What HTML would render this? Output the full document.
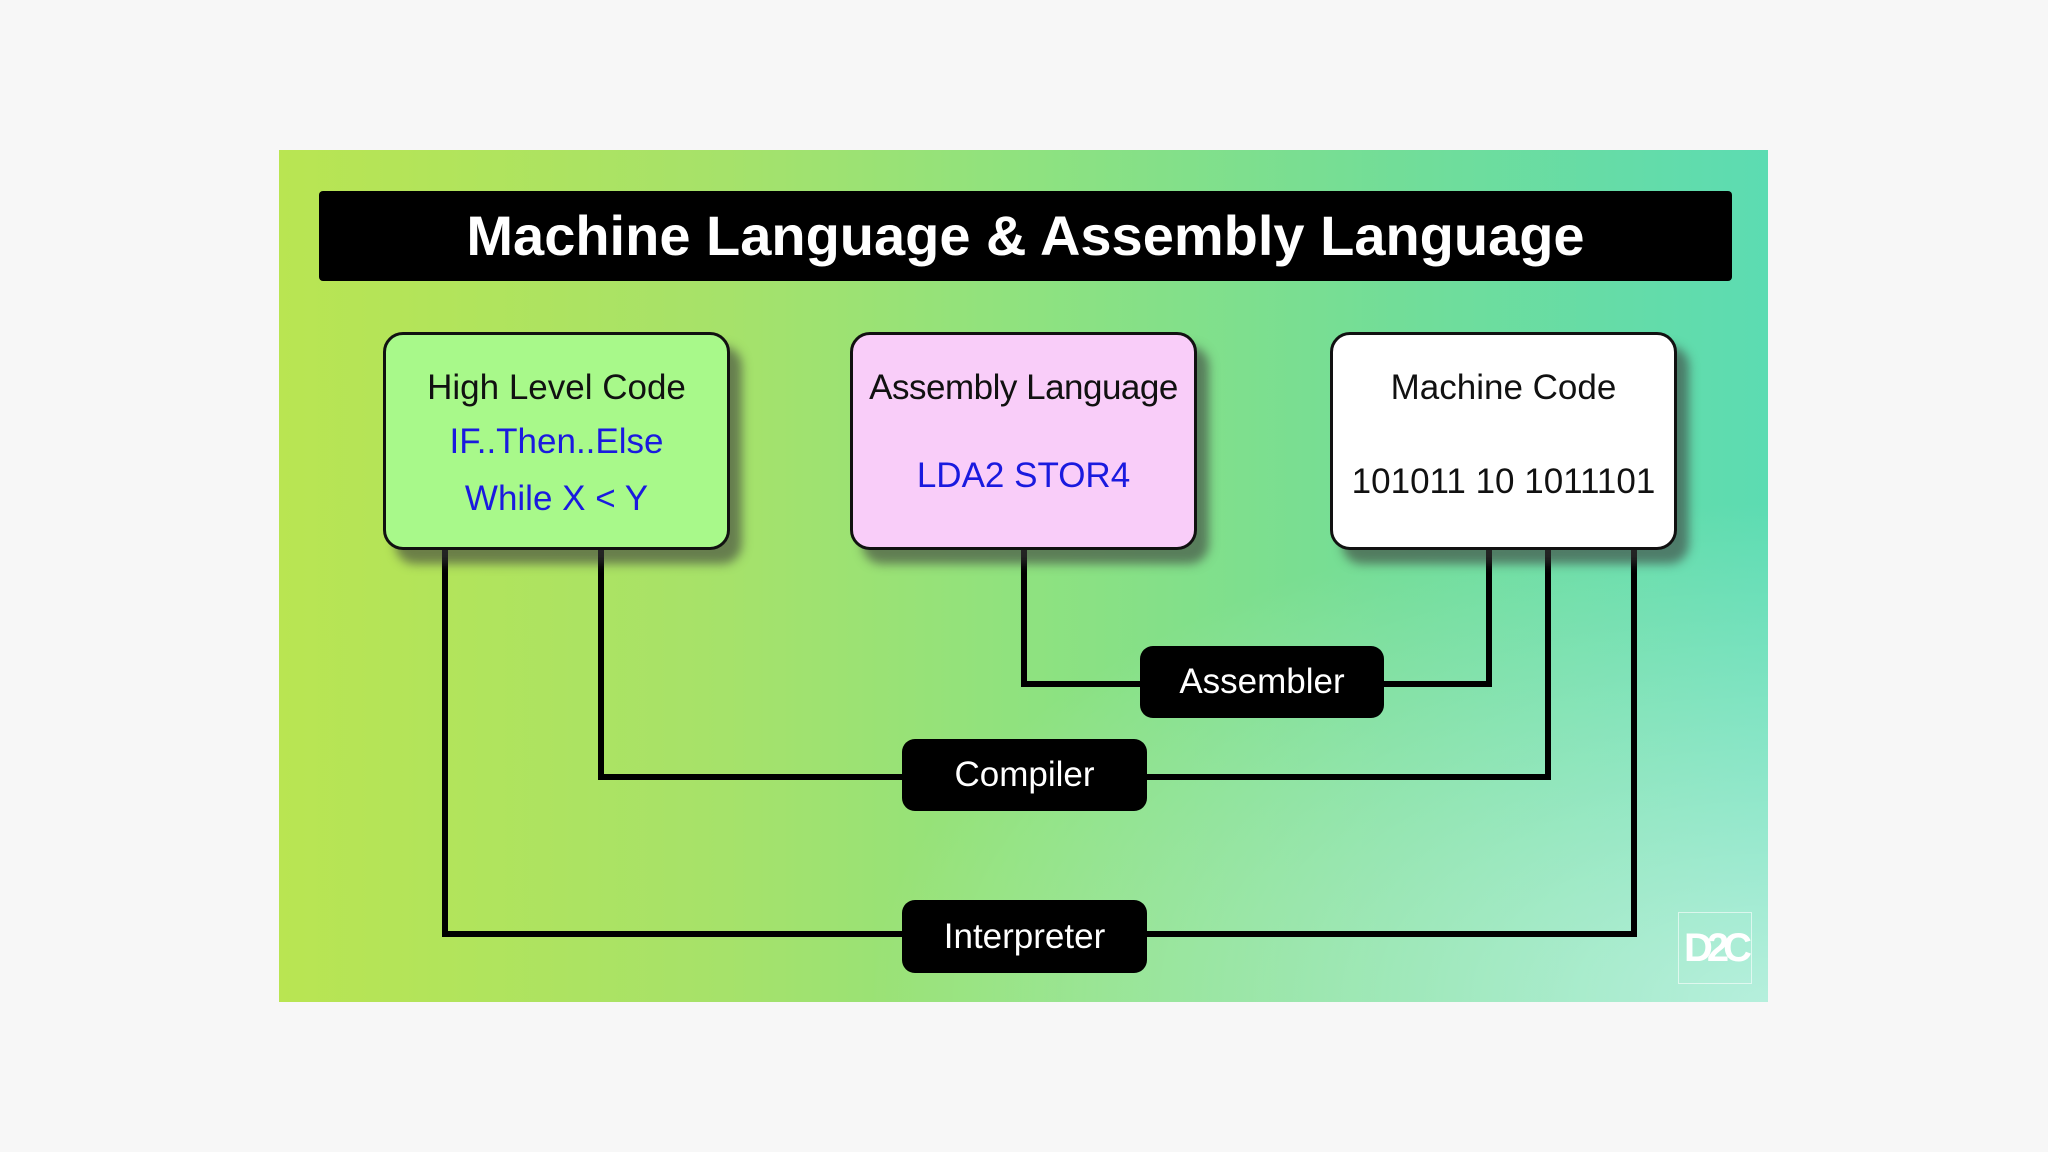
<!DOCTYPE html>
<html><head><meta charset="utf-8"><style>
body{margin:0;width:2048px;height:1152px;background:#f7f7f7;position:relative;overflow:hidden;font-family:"Liberation Sans",sans-serif}
#panel{position:absolute;left:279px;top:150px;width:1489px;height:852px;background:linear-gradient(90deg,#b9e552 0%,#a6e26a 30%,#8fe27f 50%,#72dd98 75%,#5cdcb2 100%);overflow:hidden}
#panel:after{content:"";position:absolute;inset:0;background:radial-gradient(ellipse 900px 500px at 100% 100%,rgba(255,255,255,.55),rgba(255,255,255,0) 100%)}
.title{position:absolute;left:319px;top:191px;width:1413px;height:90px;background:#000;border-radius:4px;color:#fff;font-weight:bold;font-size:56px;text-align:center;line-height:90px;z-index:2}
.box{position:absolute;top:332px;width:341px;height:212px;border:3px solid #111;border-radius:20px;box-shadow:12px 14px 10px rgba(60,60,60,.6);z-index:3;text-align:center;font-size:35px;color:#111}
.box div{position:absolute;left:0;right:0;line-height:40px}
.blue{color:#1a1adf}
.pill{position:absolute;background:#000;color:#fff;border-radius:13px;font-size:35px;text-align:center;z-index:3}
svg{position:absolute;left:0;top:0;z-index:2}
</style></head><body>
<div id="panel"></div>
<div class="title">Machine Language &amp; Assembly Language</div>
<svg width="2048" height="1152"><g fill="none" stroke="#000" stroke-width="6">
<polyline points="445,550 445,934 910,934"/>
<polyline points="601,550 601,777 910,777"/>
<polyline points="1024,550 1024,684 1150,684"/>
<polyline points="1489,550 1489,684 1380,684"/>
<polyline points="1548,550 1548,777 1140,777"/>
<polyline points="1634,550 1634,934 1140,934"/>
</g></svg>
<div class="box" style="left:383px;background:#a8f98a"><div style="top:33px">High Level Code</div><div class="blue" style="top:87px">IF..Then..Else</div><div class="blue" style="top:144px">While X &lt; Y</div></div>
<div class="box" style="left:850px;background:#f9cdf9"><div style="top:33px;letter-spacing:-0.5px">Assembly Language</div><div class="blue" style="top:121px">LDA2 STOR4</div></div>
<div class="box" style="left:1330px;background:#fff"><div style="top:33px">Machine Code</div><div style="top:127px">101011 10 1011101</div></div>
<div class="pill" style="left:1140px;top:646px;width:244px;height:72px;line-height:72px">Assembler</div>
<div class="pill" style="left:902px;top:739px;width:245px;height:72px;line-height:72px">Compiler</div>
<div class="pill" style="left:902px;top:900px;width:245px;height:73px;line-height:73px">Interpreter</div>
<div style="position:absolute;left:1678px;top:912px;width:72px;height:70px;border:1px solid rgba(255,255,255,.6);z-index:3;color:#fff;font-weight:bold;font-size:40px;line-height:70px;text-align:center;letter-spacing:-6px">D2C</div>
</body></html>
